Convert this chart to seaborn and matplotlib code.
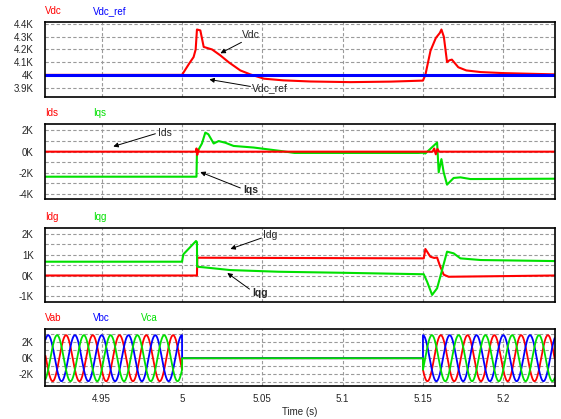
import numpy as np
import matplotlib
matplotlib.use("Agg")
import matplotlib.pyplot as plt
import seaborn as sns
from matplotlib.ticker import FuncFormatter, MultipleLocator

# ---- values (time in s, volts / amps) ----
t_vdc = [4.915, 5.0, 5.0045, 5.0072, 5.0085, 5.0093, 5.0114, 5.0135, 5.0187, 5.0238,
         5.029, 5.0363, 5.0425, 5.051, 5.063, 5.08, 5.105, 5.13, 5.15, 5.1515,
         5.1547, 5.158, 5.1605, 5.1615, 5.163, 5.165, 5.1665, 5.168, 5.170, 5.172,
         5.177, 5.186, 5.2, 5.232]
vdc = [4000, 4000, 4090, 4140, 4200, 4357, 4350, 4220, 4200, 4154,
       4100, 4035, 4004, 3970, 3957, 3948, 3943, 3947, 3955, 4000,
       4190, 4290, 4330, 4357, 4300, 4100, 4115, 4120, 4090, 4060,
       4035, 4022, 4014, 4004]
t_vdc_ref = [4.915, 5.232]
vdc_ref = [4000, 4000]

t_ids = [4.915, 5.0088, 5.009, 5.0095, 5.0100, 5.0105, 5.1560, 5.1570, 5.1580, 5.1590, 5.1600, 5.232]
ids = [0, 0, 300, -300, 150, 0, 0, 300, -250, 250, 0, 0]

t_iqs = [4.915, 5.0090, 5.0093, 5.0124, 5.0145, 5.0164, 5.0197, 5.0228, 5.027, 5.0321,
         5.0446, 5.0612, 5.07, 5.147, 5.15, 5.1515, 5.1588, 5.1598, 5.1615, 5.1629,
         5.165, 5.1691, 5.1733, 5.1795, 5.232]
iqs = [-2360, -2360, -70, 770, 1800, 1640, 770, 1000, 840, 540,
       390, 70, -120, -120, -100, -170, 860, -1950, -700, -1950,
       -3110, -2480, -2420, -2580, -2550]

t_idg = [4.915, 5.0093, 5.0095, 5.1505, 5.1515, 5.1546, 5.1570, 5.1588, 5.1604, 5.1629, 5.166, 5.232]
idg = [0, 0, 850, 820, 1270, 900, 840, 860, 500, 40, -60, 0]

t_iqg = [4.915, 5.0, 5.0008, 5.0087, 5.0093, 5.0094, 5.015, 5.03, 5.06, 5.1,
         5.1505, 5.1526, 5.1557, 5.1588, 5.1619, 5.165, 5.1691, 5.1733, 5.186, 5.232]
iqg = [660, 660, 1010, 1650, 1600, 420, 380, 260, 180, 130,
       60, -300, -930, -610, 260, 1140, 1060, 820, 740, 690]

# three-phase line voltages: 60 Hz, peak read as ~2.9 kV, off between 5.0 s and 5.15 s
v_peak = 2900
f_line = 60
t_off, t_on = 5.0, 5.15
phase_names = ["Vab", "Vbc", "Vca"]
phase_shift_deg = [120, 0, -120]

x_ticks = [4.95, 5.0, 5.05, 5.1, 5.15, 5.2]

RED, BLUE, GREEN = "#ff0000", "#0000ff", "#00e000"

sns.set_style("white")
plt.rcParams["font.family"] = ["Liberation Sans", "DejaVu Sans"]
plt.rcParams["font.size"] = 7

W, H = 561, 419
fig = plt.figure(figsize=(W / 100, H / 100), dpi=100)


def box(top, bottom):
    return [45 / W, 1 - bottom / H, 510 / W, (bottom - top) / H]


ax1 = fig.add_axes(box(22, 97))
ax2 = fig.add_axes(box(124.3, 199.3), sharex=ax1)
ax3 = fig.add_axes(box(227.7, 302.3), sharex=ax1)
ax4 = fig.add_axes(box(329.3, 386), sharex=ax1)

kw = dict(estimator=None, sort=False, legend=False, lw=1.5)

# panel 1
sns.lineplot(x=t_vdc, y=vdc, ax=ax1, color=RED, **kw)
sns.lineplot(x=t_vdc_ref, y=vdc_ref, ax=ax1, color=BLUE, estimator=None, sort=False, legend=False, lw=2.2)

# panel 2
sns.lineplot(x=t_iqs, y=iqs, ax=ax2, color=GREEN, **kw)
sns.lineplot(x=t_ids, y=ids, ax=ax2, color=RED, **kw)

# panel 3
sns.lineplot(x=t_idg, y=idg, ax=ax3, color=RED, **kw)
sns.lineplot(x=t_iqg, y=iqg, ax=ax3, color=GREEN, **kw)

# panel 4
t = np.linspace(4.915, 5.232, 4000)
t = np.sort(np.concatenate([t, [t_off, t_off + 1e-6, t_on, t_on + 1e-6]]))
live = (t <= t_off) | (t > t_on)
for name, shift, c in zip(phase_names, phase_shift_deg, [RED, BLUE, GREEN]):
    v = v_peak * np.cos(2 * np.pi * f_line * (t - t_off) + np.deg2rad(shift)) * live
    sns.lineplot(x=t, y=v, ax=ax4, color=c, estimator=None, sort=False, legend=False, lw=1.3)

kfmt = FuncFormatter(lambda v, p: f"{v / 1000:g}K")
setup = [
    (ax1, (3826, 4416), [3900, 4000, 4100, 4200, 4300, 4400], 100,
     [("Vdc", RED), ("Vdc_ref", BLUE)]),
    (ax2, (-4490, 2580), [-4000, -2000, 0, 2000], 1000, [("Ids", RED), ("Iqs", GREEN)]),
    (ax3, (-1282, 2287), [-1000, 0, 1000, 2000], 500, [("Idg", RED), ("Iqg", GREEN)]),
    (ax4, (-3500, 3640), [-2000, 0, 2000], 1000,
     [("Vab", RED), ("Vbc", BLUE), ("Vca", GREEN)]),
]
for ax, ylim, yt, minor, names in setup:
    ax.set_xlim(4.9147, 5.2322)
    ax.set_ylim(*ylim)
    ax.set_yticks(yt)
    ax.yaxis.set_minor_locator(MultipleLocator(minor))
    ax.yaxis.set_major_formatter(kfmt)
    ax.set_xticks(x_ticks)
    ax.grid(True, which="both", color="#9a9a9a", ls=(0, (3, 2)), lw=0.8)
    ax.tick_params(which="both", length=0)
    ax.tick_params(axis="y", pad=8)
    ax.set_xlabel("")
    ax.set_ylabel("")
    for s in ax.spines.values():
        s.set_visible(True)
        s.set_color("black")
        s.set_linewidth(1.2)
    for i, (name, c) in enumerate(names):
        ax.annotate(name, xy=(0, 1), xycoords="axes fraction", xytext=(i * 48, 6),
                    textcoords="offset pixels", color=c, ha="left", va="bottom", fontsize=7)
    if ax is not ax4:
        ax.tick_params(axis="x", labelbottom=False)

ax4.xaxis.set_major_formatter(FuncFormatter(lambda v, p: f"{v:g}"))
ax4.tick_params(axis="x", pad=6)
ax4.set_xlabel("Time (s)", labelpad=2)

# arrow callouts: (axis, label, text position, arrow tail, arrow tip, bold)
notes = [
    (ax1, "Vdc", (5.0376, 4310), (5.037, 4256), (5.0239, 4170), False),
    (ax1, "Vdc_ref", (5.0438, 3893), (5.0426, 3909), (5.0170, 3964), False),
    (ax2, "Ids", (4.9852, 1730), (4.9834, 1690), (4.9572, 490), False),
    (ax2, "Iqs", (5.0382, -3610), (5.0363, -3420), (5.0114, -1920), True),
    (ax3, "Idg", (5.0507, 1940), (5.0494, 1790), (5.0301, 1270), False),
    (ax3, "Iqg", (5.0438, -840), (5.042, -650), (5.0282, 120), True),
]
for ax, label, txy, tail, tip, bold in notes:
    ax.text(*txy, label, ha="left", va="center", fontsize=7.5,
            fontweight="bold" if bold else "normal")
    ax.annotate("", xy=tip, xytext=tail,
                arrowprops=dict(arrowstyle="-|>", color="black", lw=0.7,
                                mutation_scale=7, shrinkA=0, shrinkB=0))

fig.savefig("out.png", dpi=100)
